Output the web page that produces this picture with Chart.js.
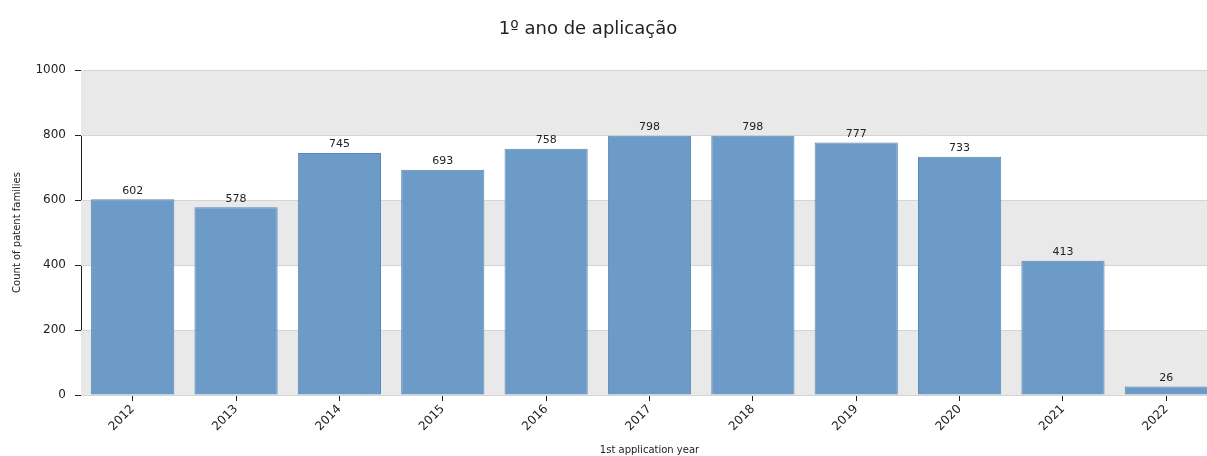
<!DOCTYPE html>
<html><head><meta charset="utf-8">
<script src="https://cdn.jsdelivr.net/npm/chart.js@4/dist/chart.umd.min.js"></script>
<style>html,body{margin:0;padding:0;background:#fff}#wrap{width:1207px;height:456px;position:relative}</style>
</head><body><div id="wrap"><canvas id="c" width="1207" height="456"></canvas></div>
<script>
const categories = ['2012','2013','2014','2015','2016','2017','2018','2019','2020','2021','2022'];
const counts = [602, 578, 745, 693, 758, 798, 798, 777, 733, 413, 26];
const yTicks = [0, 200, 400, 600, 800, 1000];
const titleText = '1º ano de aplicação';
const yTitle = 'Count of patent families';
const xTitle = '1st application year';

const FONT = '"DejaVu Sans", Verdana, sans-serif';

// plot area continues past the right edge of the canvas, as in the reference
const extendRight = {
  id: 'extendRight',
  afterLayout(chart) {
    const x = chart.scales.x;
    const newRight = 1218;
    x.right = newRight;
    x.width = newRight - x.left;
    x.configure();
    chart.chartArea.right = newRight;
    chart.chartArea.width = newRight - chart.chartArea.left;
  }
};

const bands = {
  id: 'bands',
  beforeDatasetsDraw(chart) {
    const {ctx, chartArea: a, scales: {y}} = chart;
    ctx.save();
    for (let i = 0; i < yTicks.length - 1; i++) {
      if (i % 2 === 0) {
        const t = y.getPixelForValue(yTicks[i + 1]);
        const b = y.getPixelForValue(yTicks[i]);
        ctx.fillStyle = '#e9e9e9';
        ctx.fillRect(a.left, t, a.right - a.left, b - t);
      }
    }
    ctx.strokeStyle = '#d4d4d4';
    ctx.lineWidth = 1;
    yTicks.forEach(v => {
      const p = Math.round(y.getPixelForValue(v)) + 0.5;
      ctx.beginPath(); ctx.moveTo(a.left, p); ctx.lineTo(a.right, p); ctx.stroke();
    });
    ctx.restore();
  }
};

const labels = {
  id: 'labels',
  afterDatasetsDraw(chart) {
    const {ctx} = chart;
    const meta = chart.getDatasetMeta(0);
    ctx.save();
    ctx.font = '11px ' + FONT;
    ctx.fillStyle = '#222';
    ctx.textAlign = 'center';
    ctx.textBaseline = 'bottom';
    meta.data.forEach((bar, i) => {
      ctx.fillText(String(counts[i]), bar.x, bar.y - 3);
    });
    ctx.restore();
  }
};

const topTitle = {
  id: 'topTitle',
  afterDraw(chart) {
    const {ctx} = chart;
    ctx.save();
    ctx.font = '18px ' + FONT;
    ctx.fillStyle = '#222';
    ctx.textAlign = 'center';
    ctx.textBaseline = 'middle';
    ctx.fillText(titleText, 588, 29);
    ctx.restore();
  }
};

new Chart(document.getElementById('c'), {
  type: 'bar',
  data: {
    labels: categories,
    datasets: [{
      data: counts,
      backgroundColor: '#6c9bc8',
      borderColor: '#5a87b6',
      borderWidth: 1,
      categoryPercentage: 0.805,
      barPercentage: 1.0
    }]
  },
  options: {
    responsive: false,
    animation: false,
    layout: { padding: { left: 0, right: 0, top: 70, bottom: 0 } },
    plugins: {
      legend: { display: false },
      tooltip: { enabled: false },
      title: { display: false }
    },
    scales: {
      x: {
        offset: true,
        grid: { display: true, drawOnChartArea: false, drawTicks: true, tickLength: 6, color: '#222', offset: false },
        border: { display: true, color: '#222', width: 1 },
        ticks: { color: '#222', font: { family: FONT, size: 12 }, minRotation: 45, maxRotation: 45, padding: 1, autoSkip: false },
        title: { display: true, text: xTitle, color: '#222', font: { family: FONT, size: 10 }, padding: { top: 0, bottom: 0 } },
        afterFit(s) { s.height = 61; s.paddingLeft = 0; s.paddingRight = 0; }
      },
      y: {
        min: 0, max: 1000,
        afterBuildTicks(s) { s.ticks = yTicks.map(v => ({ value: v })); },
        grid: { display: true, drawOnChartArea: false, drawTicks: true, tickLength: 6, color: '#222' },
        border: { display: true, color: '#222', width: 1 },
        ticks: { color: '#222', font: { family: FONT, size: 12 }, padding: 9, callback: v => String(v) },
        title: { display: true, text: yTitle, color: '#222', font: { family: FONT, size: 10 }, padding: { top: 11, bottom: 4 } },
        afterFit(s) { s.width = 81; }
      }
    }
  },
  plugins: [extendRight, bands, labels, topTitle]
});
</script>
</body></html>
